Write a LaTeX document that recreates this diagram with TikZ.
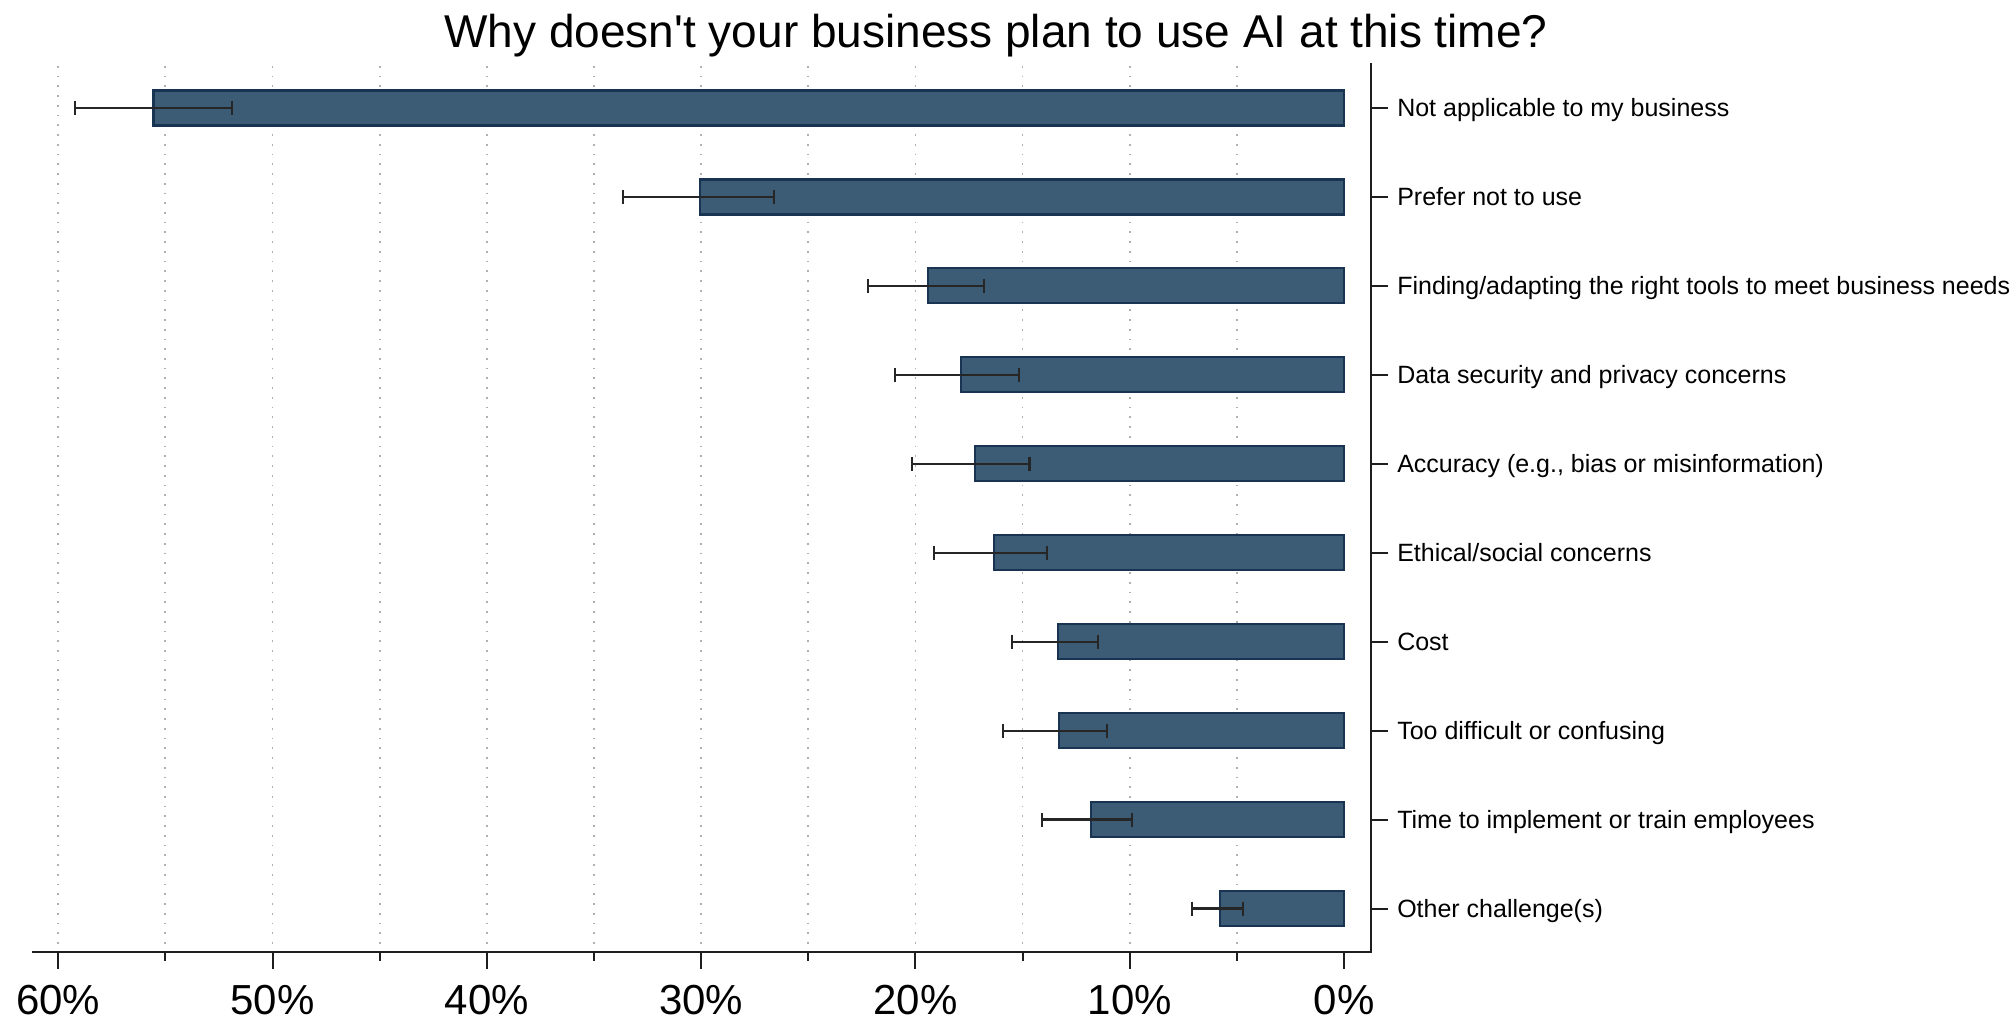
\documentclass[tikz,border=0pt]{standalone}
\usepackage{fontspec}
\setmainfont{Liberation Sans}[Ligatures=TeXOff]
\definecolor{barfill}{RGB}{60,91,116}
\definecolor{barline}{RGB}{24,52,82}
\definecolor{gridc}{RGB}{175,175,175}
\definecolor{axisc}{RGB}{30,30,30}
\newcommand\xpos[1]{1344-21.43*#1}
\newcommand\mybar[5]{%
  \pgfmathsetmacro\yc{108+88.95*#1}
  \draw[barbox] ({\xpos{#2}},{\yc-17.5}) rectangle (1344,{\yc+17.5});
  \draw[errline] ({\xpos{#3}},\yc) -- ({\xpos{#4}},\yc);
  \draw[errline] ({\xpos{#3}},{\yc-7}) -- ({\xpos{#3}},{\yc+7});
  \draw[errline] ({\xpos{#4}},{\yc-7}) -- ({\xpos{#4}},{\yc+7});
  \draw[axisline] (1371,\yc) -- (1388,\yc);
  \node[catlabel] (lab#1) at (1397,{\yc+9}) {#5};
}
\begin{document}
\begin{tikzpicture}[x=0.75pt,y=-0.75pt,
  barbox/.style={fill=barfill,draw=barline,line width=1.6pt},
  errline/.style={draw=black!85,line width=1.7pt},
  axisline/.style={draw=axisc,line width=1.5pt},
  gridline/.style={draw=gridc,line width=1.3pt,dash pattern=on 1.3pt off 6pt},
  catlabel/.style={anchor=base west,inner sep=0pt,font=\fontsize{18.75pt}{22pt}\selectfont},
  ticklabel/.style={anchor=base,inner sep=0pt,font=\fontsize{31.5pt}{36pt}\selectfont},
  titlelabel/.style={anchor=base,inner sep=0pt,font=\fontsize{34.5pt}{40pt}\selectfont}]
\useasboundingbox[fill=white] (0,0) rectangle (2011,1020);
% title
\node[titlelabel] (title) at (996,48) {Why doesn't your business plan to use AI at this time?};
% grid lines
\foreach \v in {5,10,...,60} {
  \draw[gridline] ({\xpos{\v}},66) -- ({\xpos{\v}},950);
}
% bars
\mybar{0}{55.55}{59.2}{51.9}{Not applicable to my business}
\mybar{1}{30.05}{33.65}{26.6}{Prefer not to use}
\mybar{2}{19.4}{22.2}{16.8}{Finding/adapting the right tools to meet business needs}
\mybar{3}{17.87}{20.94}{15.17}{Data security and privacy concerns}
\mybar{4}{17.23}{20.16}{14.68}{Accuracy (e.g., bias or misinformation)}
\mybar{5}{16.32}{19.13}{13.87}{Ethical/social concerns}
\mybar{6}{13.36}{15.5}{11.47}{Cost}
\mybar{7}{13.28}{15.91}{11.05}{Too difficult or confusing}
\mybar{8}{11.82}{14.08}{9.91}{Time to implement or train employees}
\mybar{9}{5.79}{7.09}{4.71}{Other challenge(s)}
% axes
\draw[axisline] (32,952) -- (1372,952);
\draw[axisline] (1371,63) -- (1371,953);
\foreach \v in {0,10,...,60} {
  \draw[axisline] ({\xpos{\v}},952) -- ({\xpos{\v}},969);
  \node[ticklabel] (tick\v) at ({\xpos{\v}},1014) {\v\%};
}
\foreach \v in {5,15,...,55} {
  \draw[axisline] ({\xpos{\v}},952) -- ({\xpos{\v}},961);
}
\end{tikzpicture}
\end{document}
